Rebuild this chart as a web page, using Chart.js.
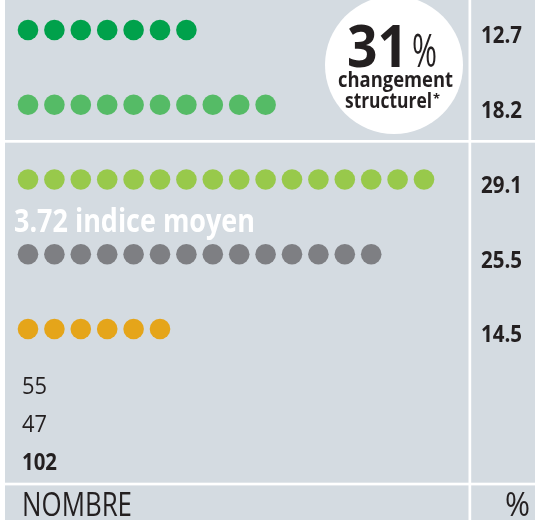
<!DOCTYPE html>
<html>
<head>
<meta charset="utf-8">
<script src="https://cdn.jsdelivr.net/npm/chart.js@4"></script>
<style>
  body { margin: 0; background: #ffffff; }
  #wrap { width: 535px; height: 520px; position: relative; }
</style>
</head>
<body>
<div id="wrap"><canvas id="dotChart"></canvas></div>
<script>
  const rowCounts = [7, 10, 16, 14, 6];
  const rowShares = ['12.7', '18.2', '29.1', '25.5', '14.5'];
  const rowColors = ['#00a14b', '#55bb66', '#98c94b', '#7e7f83', '#e5a51a'];

  const countLabels = ['55', '47', '102'];
  const headlineValue = '31';
  const headlineText = ['changement', 'structurel'];
  const averageLabel = '3.72 indice moyen';
  const footerLeft = 'NOMBRE';
  const footerRight = '%';

  const bg = '#d4dbe1';
  const ink = '#231f20';
  const face = '"Open Sans", "Noto Sans", sans-serif';

  const dotDatasets = rowCounts.map((count, row) => {
    const pts = [];
    for (let i = 0; i < count; i++) pts.push({ x: i, y: row });
    return {
      data: pts,
      backgroundColor: rowColors[row],
      borderWidth: 0,
      pointRadius: 10.3,
      pointHoverRadius: 10.3
    };
  });

  // squeeze text horizontally to the condensed width of the original
  function fitText(c, text, x, y, font, width, align) {
    c.font = font;
    const w = c.measureText(text).width;
    const sx = width / w;
    c.save();
    c.textAlign = 'left';
    const left = align === 'center' ? x - width / 2 : x;
    c.translate(left, y);
    c.scale(sx, 1);
    c.fillText(text, 0, 0);
    c.restore();
  }

  const panelPlugin = {
    id: 'panel',
    beforeDraw(chart) {
      const c = chart.ctx;
      const w = chart.width, h = chart.height;
      c.save();
      c.fillStyle = bg;
      c.fillRect(0, 0, w, h);
      c.fillStyle = '#ffffff';
      c.fillRect(0, 0, 5, h);
      c.fillRect(0, 140, w, 2.7);
      c.fillRect(0, 482.7, w, 2.7);
      c.fillRect(468.5, 0, 2.7, h);
      // white badge
      c.beginPath();
      c.arc(394, 65, 69, 0, Math.PI * 2);
      c.fill();
      c.restore();
    },
    afterDatasetsDraw(chart) {
      const c = chart.ctx;
      const yScale = chart.scales.y;
      c.save();
      c.fillStyle = ink;
      c.textBaseline = 'alphabetic';

      rowShares.forEach((s, i) => {
        fitText(c, s, 501.5, yScale.getPixelForValue(i) + 13.3, 'bold 23px ' + face, 41, 'center');
      });

      fitText(c, countLabels[0], 22, 394, '24px ' + face, 25, 'left');
      fitText(c, countLabels[1], 22, 432, '24px ' + face, 25, 'left');
      fitText(c, countLabels[2], 22, 469.5, 'bold 24px ' + face, 35, 'left');

      fitText(c, footerLeft, 22, 516, '32px ' + face, 110, 'left');
      fitText(c, footerRight, 505, 516, '32px ' + face, 25, 'left');

      // badge text
      fitText(c, headlineValue, 347, 67, 'bold 59px ' + face, 61, 'left');
      fitText(c, '%', 412, 67, '46px ' + face, 25, 'left');
      fitText(c, headlineText[0], 395.5, 87, 'bold 21px ' + face, 115, 'center');
      fitText(c, headlineText[1], 345, 107.5, 'bold 21px ' + face, 87, 'left');
      fitText(c, '*', 433, 103, 'bold 13px ' + face, 7, 'left');

      c.fillStyle = '#ffffff';
      fitText(c, averageLabel, 14, 232, 'bold 33px ' + face, 241, 'left');
      c.restore();
    }
  };

  const dotChart = new Chart(document.getElementById('dotChart'), {
    type: 'scatter',
    data: { datasets: dotDatasets },
    options: {
      responsive: true,
      maintainAspectRatio: false,
      animation: false,
      layout: { padding: 0, autoPadding: false },
      plugins: {
        legend: { display: false },
        tooltip: { enabled: false }
      },
      scales: {
        x: { display: false, min: -28 / 26.4, max: (535 - 28) / 26.4 },
        y: { display: false, reverse: true, min: -30 / 74.75, max: (520 - 30) / 74.75 }
      }
    },
    plugins: [panelPlugin]
  });
</script>
</body>
</html>
